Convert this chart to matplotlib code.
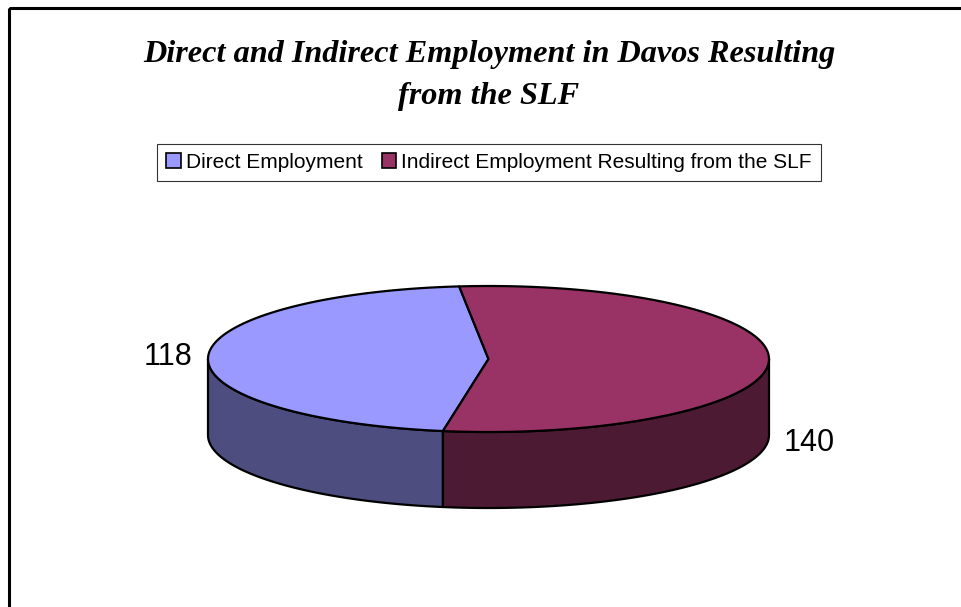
import numpy as np
import matplotlib.pyplot as plt
from matplotlib.patches import Polygon, Patch, Rectangle

# data
labels = ["Direct Employment", "Indirect Employment Resulting from the SLF"]
values = [118, 140]
top_colors = ["#9999FF", "#993366"]
side_colors = ["#4D4D80", "#4D1A33"]

# pie geometry (pixels)
cx, cy = 488.5, 359
rx, ry = 280.5, 73
depth = 76
first_angle = 96  # where the first slice starts, counter-clockwise from 3 o'clock

fig = plt.figure(figsize=(9.61, 6.07), dpi=100)
ax = fig.add_axes([0, 0, 1, 1])
ax.set_xlim(0, 961)
ax.set_ylim(607, 0)
ax.axis("off")


def arc(a0, a1, dy=0.0, n=200):
    t = np.radians(np.linspace(a0, a1, n))
    return np.column_stack([cx + rx * np.cos(t), cy - ry * np.sin(t) + dy])


spans = np.array(values) / sum(values) * 360
bounds = first_angle + np.concatenate([[0], np.cumsum(spans)])

# front walls first
for i in range(len(values)):
    a0, a1 = bounds[i], bounds[i + 1]
    for lo, hi in [(180, 360), (540, 720)]:
        s0, s1 = max(a0, lo), min(a1, hi)
        if s1 <= s0:
            continue
        top = arc(s0, s1)
        bot = arc(s0, s1, depth)[::-1]
        ax.add_patch(Polygon(np.vstack([top, bot]), closed=True,
                             facecolor=side_colors[i], edgecolor="black",
                             lw=1.6, joinstyle="round"))

# top faces
for i in range(len(values)):
    pts = np.vstack([[cx, cy], arc(bounds[i], bounds[i + 1])])
    ax.add_patch(Polygon(pts, closed=True, facecolor=top_colors[i],
                         edgecolor="black", lw=1.6, joinstyle="round"))

# value labels
label_pad = [40, 40]
label_dy = [0, 82]
for i, v in enumerate(values):
    mid = np.radians((bounds[i] + bounds[i + 1]) / 2)
    x = cx + (rx + label_pad[i]) * np.cos(mid)
    y = cy - ry * np.sin(mid) + label_dy[i]
    ax.text(x, y, str(v), fontsize=22, family="Liberation Sans",
            ha="center", va="center")

ax.text(489, 75.5, "Direct and Indirect Employment in Davos Resulting\nfrom the SLF",
        fontsize=23.2, family="Liberation Serif", weight="bold", style="italic",
        ha="center", va="center", linespacing=1.55)

handles = [Patch(facecolor=c, edgecolor="black", lw=1.2) for c in top_colors]
leg = ax.legend(handles, labels, loc="center", bbox_to_anchor=(489 / 961, 1 - 162.5 / 607),
                ncol=2, frameon=True, fancybox=False, edgecolor="black",
                prop={"family": "Liberation Sans", "size": 15},
                handlelength=0.7, handleheight=0.7, handletextpad=0.25,
                columnspacing=0.9, borderpad=0.45, borderaxespad=0)
leg.get_frame().set_linewidth(0.8)

# chart area border
ax.add_patch(Rectangle((9, 8), 1100, 800, fill=False, edgecolor="black",
                       lw=2.2, clip_on=False))

fig.savefig("out.png", dpi=100, facecolor="white")
